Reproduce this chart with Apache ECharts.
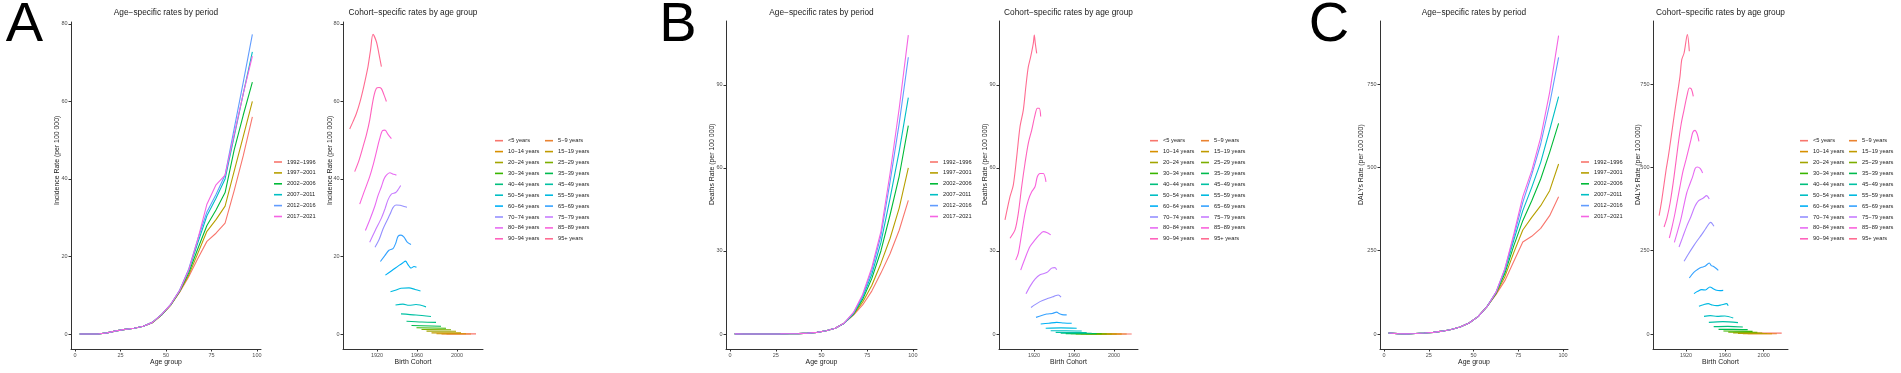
<!DOCTYPE html>
<html>
<head>
<meta charset="utf-8">
<script src="https://cdn.jsdelivr.net/npm/echarts@6/dist/echarts.min.js"></script>
<style>
  html, body { margin: 0; padding: 0; background: #fff; }
  #chart { width: 1901px; height: 373px; }
</style>
</head>
<body>
<div id="chart"></div>
<script>
const FONT = '"Liberation Sans", Arial, Helvetica, sans-serif'

// ---- data ----
const ageMids = [2.5, 7.5, 12.5, 17.5, 22.5, 27.5, 32.5, 37.5, 42.5, 47.5, 52.5, 57.5, 62.5, 67.5, 72.5, 77.5, 82.5, 87.5, 92.5, 97.5]
const periods = ['1992−1996', '1997−2001', '2002−2006', '2007−2011', '2012−2016', '2017−2021']
const ageGroups = ['<5 years', '5−9 years', '10−14 years', '15−19 years', '20−24 years', '25−29 years',
  '30−34 years', '35−39 years', '40−44 years', '45−49 years', '50−54 years', '55−59 years',
  '60−64 years', '65−69 years', '70−74 years', '75−79 years', '80−84 years', '85−89 years',
  '90−94 years', '95+ years']

const ageTicks = [0, 25, 50, 75, 100]
const cohortTicks = [1920, 1960, 2000]
const incidenceTicks = [0, 20, 40, 60, 80]
const deathsTicks = [0, 30, 60, 90]
const dalysTicks = [0, 250, 500, 750]

// rates by period, one row per period, one value per age group
const incidenceByPeriod = [
  [0, 0, 0, 0.3, 0.8, 1.2, 1.5, 2.0, 2.9, 4.9, 7.4, 10.8, 14.8, 19.5, 23.9, 26.0, 28.6, 37.0, 46.0, 56.0],
  [0, 0, 0, 0.3, 0.8, 1.2, 1.5, 2.0, 2.9, 4.9, 7.4, 10.9, 15.2, 20.8, 26.5, 29.5, 33.0, 42.0, 51.0, 60.0],
  [0, 0, 0, 0.3, 0.8, 1.2, 1.5, 2.0, 3.0, 4.9, 7.5, 11.0, 15.8, 22.0, 28.0, 32.0, 36.5, 47.5, 56.5, 65.0],
  [0, 0, 0, 0.3, 0.8, 1.2, 1.5, 2.0, 3.0, 5.0, 7.5, 11.2, 16.4, 23.5, 30.5, 35.0, 40.0, 51.0, 62.0, 72.8],
  [0, 0, 0, 0.3, 0.8, 1.2, 1.5, 2.0, 3.0, 5.0, 7.6, 11.3, 16.8, 24.5, 31.5, 36.0, 41.0, 53.0, 65.0, 77.3],
  [0, 0, 0, 0.3, 0.8, 1.2, 1.5, 2.0, 3.0, 5.0, 7.6, 11.2, 16.5, 24.5, 33.5, 38.5, 41.0, 51.5, 62.0, 71.7]
]
const deathsByPeriod = [
  [0.05, 0.01, 0.01, 0.01, 0.02, 0.04, 0.08, 0.15, 0.3, 0.6, 1.2, 2.1, 4.0, 6.8, 10.5, 15.5, 22.0, 29.0, 37.5, 48.3],
  [0.05, 0.01, 0.01, 0.01, 0.02, 0.04, 0.08, 0.15, 0.3, 0.6, 1.2, 2.1, 4.0, 7.0, 11.5, 17.5, 25.5, 34.5, 45.5, 60.0],
  [0.05, 0.01, 0.01, 0.01, 0.02, 0.04, 0.08, 0.15, 0.3, 0.6, 1.2, 2.1, 3.9, 7.2, 12.5, 20.0, 30.0, 43.0, 57.0, 75.3],
  [0.05, 0.01, 0.01, 0.01, 0.02, 0.04, 0.08, 0.15, 0.3, 0.6, 1.2, 2.1, 3.9, 7.4, 13.3, 21.5, 33.0, 49.0, 66.0, 85.4],
  [0.05, 0.01, 0.01, 0.01, 0.02, 0.04, 0.08, 0.15, 0.3, 0.6, 1.2, 2.1, 4.0, 7.6, 13.8, 23.0, 35.5, 55.0, 76.0, 100.0],
  [0.05, 0.01, 0.01, 0.01, 0.02, 0.04, 0.08, 0.15, 0.3, 0.6, 1.2, 2.1, 4.0, 7.8, 14.3, 24.0, 37.0, 58.0, 81.5, 108.0]
]
const dalysByPeriod = [
  [3, 1, 0.5, 1.5, 3, 5, 8.5, 13.5, 21, 33, 52, 82, 118, 160, 218, 276, 293, 317, 355, 412],
  [3, 1, 0.5, 1.5, 3, 5, 8.5, 13.5, 21, 33, 52, 82, 120, 172, 245, 312, 350, 385, 430, 510],
  [3, 1, 0.5, 1.5, 3, 5, 8.5, 13.5, 21, 33, 52, 82, 122, 182, 265, 340, 400, 465, 545, 632],
  [3, 1, 0.5, 1.5, 3, 5, 8.5, 13.5, 21, 33, 52, 82, 124, 190, 282, 370, 440, 515, 612, 712],
  [3, 1, 0.5, 1.5, 3, 5, 8.5, 13.5, 21, 33, 52, 82, 125, 195, 293, 395, 478, 570, 690, 830],
  [3, 1, 0.5, 1.5, 3, 5, 8.5, 13.5, 21, 33, 52, 82, 125, 196, 300, 412, 490, 590, 725, 895]
]

// rates by birth cohort, one list of [cohort, rate] per age group
const incidenceByCohort = [
  [[1989.5, 0.02], [2019, 0.02]],
  [[1984.5, 0.01], [2014, 0.01]],
  [[1979.5, 0.05], [2009, 0.06]],
  [[1974.5, 0.3], [2004, 0.3]],
  [[1969.5, 0.75], [1999, 0.7]],
  [[1964.5, 1.15], [1994, 1.1]],
  [[1959.5, 1.6], [1989, 1.5]],
  [[1954.5, 2.2], [1984, 2.0]],
  [[1949.5, 3.3], [1965, 3.1], [1979, 3.0]],
  [[1944, 5.2], [1959, 4.9], [1974, 4.5]],
  [[1938.5, 7.5], [1946, 7.7], [1952, 7.4], [1959, 7.6], [1969, 7.0]],
  [[1933.5, 10.9], [1937.5, 11.2], [1944, 11.8], [1952, 11.9], [1958, 11.5], [1963.5, 11.1]],
  [[1928.4, 15.2], [1935, 16.4], [1942, 17.7], [1946, 18.4], [1948.5, 18.8], [1951, 17.9], [1954, 17.0], [1957, 17.4], [1959.5, 17.2]],
  [[1923.4, 18.7], [1928, 20.3], [1932, 21.6], [1936, 22.0], [1939, 23.6], [1941, 25.2], [1944, 25.5], [1947, 25.0], [1950, 23.8], [1954, 23.1]],
  [[1918, 22.4], [1922, 24.3], [1926, 27.1], [1930, 29.3], [1933, 30.9], [1936, 32.6], [1939, 33.3], [1943, 33.2], [1947, 32.9], [1950, 32.7]],
  [[1912.7, 23.7], [1918, 26.6], [1924.4, 29.9], [1928, 32.3], [1931, 34.6], [1934.4, 36.1], [1938.7, 36.5], [1941.5, 37.4], [1943.7, 38.3]],
  [[1908.4, 26.7], [1913, 29.6], [1917.7, 32.9], [1921, 35.7], [1924.4, 38.0], [1927, 40.0], [1929.4, 41.0], [1932.7, 41.6], [1936.7, 41.2], [1939.4, 41.0]],
  [[1902.7, 33.5], [1907, 36.6], [1912.7, 40.6], [1916, 43.5], [1919.4, 47.0], [1922.5, 50.2], [1925.5, 52.5], [1928, 52.6], [1931, 51.5], [1934.4, 50.4]],
  [[1897.7, 41.9], [1902, 44.8], [1906, 48.3], [1909.5, 51.5], [1912.7, 55.2], [1915, 58.8], [1917, 61.5], [1919.4, 63.4], [1922, 63.6], [1924.4, 63.3], [1927, 61.7], [1929.4, 60.0]],
  [[1892.7, 52.9], [1896, 54.8], [1899.4, 56.9], [1903, 59.9], [1906, 63.0], [1909, 66.5], [1911, 69.0], [1913.5, 73.2], [1916, 77.3], [1919.4, 75.4], [1922, 72.2], [1924.4, 69.0]]
]
const deathsByCohort = [
  [[1986.7, 0.02], [2017.7, 0.02]],
  [[1981.7, 0.01], [2012.7, 0.01]],
  [[1976.7, 0.01], [2007.7, 0.01]],
  [[1971.7, 0.01], [2002.7, 0.01]],
  [[1966.7, 0.02], [1997.7, 0.02]],
  [[1961.7, 0.04], [1992.7, 0.04]],
  [[1956.7, 0.08], [1987.7, 0.07]],
  [[1951.7, 0.15], [1982.7, 0.14]],
  [[1946.7, 0.3], [1977.7, 0.28]],
  [[1941.7, 0.6], [1972.7, 0.55]],
  [[1936.7, 1.2], [1952, 1.2], [1967.7, 1.1]],
  [[1931.7, 2.1], [1947, 2.2], [1962.7, 2.1]],
  [[1926.7, 3.6], [1935, 3.9], [1942.7, 4.2], [1950, 4.0], [1957.7, 3.9]],
  [[1922, 6.0], [1932.7, 7.2], [1938, 7.4], [1942.7, 7.9], [1945, 7.4], [1948, 7.0], [1952.7, 6.9]],
  [[1917, 9.6], [1926, 11.7], [1934.3, 12.9], [1940, 13.6], [1944.3, 14.1], [1947, 13.3]],
  [[1912, 14.5], [1916, 17.2], [1921, 19.8], [1926, 21.4], [1932.7, 22.2], [1937.7, 23.8], [1941, 24.0], [1942.7, 23.2]],
  [[1906.7, 23.1], [1911, 27.3], [1916, 31.6], [1921, 34.0], [1925.3, 35.8], [1929.3, 37.0], [1933.3, 36.6], [1936.7, 35.8]],
  [[1901.7, 26.7], [1904.3, 29.1], [1907.7, 36.4], [1911, 43.6], [1914.3, 48.4], [1917.7, 51.4], [1921, 53.2], [1923.3, 56.8], [1926, 58.0], [1929.3, 58.0], [1932, 55.0]],
  [[1896, 34.6], [1901, 37.6], [1904.3, 43.6], [1907.7, 53.3], [1911, 61.7], [1914.3, 68.9], [1917.7, 73.7], [1921, 79.1], [1923.3, 81.6], [1925.3, 81.6], [1926.7, 78.6]],
  [[1891, 41.2], [1896, 49.6], [1899.3, 53.8], [1902.7, 64.0], [1906, 74.9], [1909.3, 80.9], [1912, 89.9], [1914.3, 96.5], [1916.7, 100.2], [1919.3, 105.0], [1920.3, 108.0], [1921.3, 105.0], [1922.7, 101.4]]
]
const dalysByCohort = [
  [[1988.5, 3], [2018.5, 2.5]],
  [[1983.5, 0.9], [2013.5, 0.8]],
  [[1978.5, 0.8], [2008.5, 0.7]],
  [[1973.5, 1.8], [2003.5, 1.5]],
  [[1968.5, 3.5], [1998.5, 3]],
  [[1963.5, 5.5], [1993.5, 5]],
  [[1958.5, 9], [1988.5, 8]],
  [[1953.5, 14], [1968, 14], [1983.5, 13]],
  [[1948.5, 22], [1963, 23], [1978.5, 21]],
  [[1943.5, 35], [1958, 37], [1973.5, 34]],
  [[1938.5, 53], [1945, 55], [1952, 53], [1960, 54], [1968.6, 48]],
  [[1933.3, 83], [1938, 88], [1942.9, 91], [1947, 87], [1951.5, 85], [1956, 87], [1961.8, 91], [1963.4, 85]],
  [[1928.2, 121], [1932, 128], [1936.1, 133], [1940, 132], [1944.6, 141], [1948, 136], [1951.5, 131], [1955, 130], [1958.3, 131]],
  [[1923.4, 168], [1928, 185], [1932.6, 195], [1936, 200], [1939.5, 203], [1943.9, 213], [1946, 205], [1948, 203], [1950.5, 198], [1953.2, 191]],
  [[1918, 218], [1922, 238], [1927.5, 263], [1932, 282], [1936.1, 298], [1940, 315], [1945.4, 335], [1948.7, 323]],
  [[1912.8, 261], [1916.5, 290], [1920.7, 323], [1925, 352], [1929.2, 383], [1933, 400], [1937.8, 408], [1941.2, 415], [1943.9, 405]],
  [[1908, 275], [1911, 305], [1914.6, 343], [1920.7, 423], [1924, 450], [1926.9, 473], [1929.5, 497], [1931.6, 501], [1934.5, 497], [1937.1, 483]],
  [[1902.8, 288], [1905.5, 320], [1908.7, 363], [1913.8, 443], [1917, 490], [1920, 523], [1925.1, 583], [1927, 605], [1929.2, 611], [1931.5, 600], [1933.3, 578]],
  [[1897.4, 321], [1900.5, 350], [1903.6, 393], [1907.7, 473], [1912.1, 573], [1915, 630], [1918, 673], [1921, 715], [1923.4, 738], [1925.5, 735], [1927.5, 713]],
  [[1892.3, 355], [1895.1, 403], [1899.5, 493], [1901.8, 533], [1904.3, 583], [1908.7, 673], [1913.8, 773], [1915.6, 823], [1918, 843], [1921.4, 898], [1923.4, 848]]
]

// ---- styles & layout ----
const periodColors = ['#F8766D', '#B79F00', '#00BA38', '#00BFC4', '#619CFF', '#F564E3']
const groupColors = ['#F8766D', '#EA8331', '#D89000', '#C09B00', '#A3A500', '#7CAE00', '#39B600', '#00BB4E',
  '#00BF7D', '#00C1A3', '#00BFC4', '#00BAE0', '#00B0F6', '#35A2FF', '#9590FF', '#C77CFF',
  '#E76BF3', '#FA62DB', '#FF62BC', '#FF6C91']

const panels = [
  { letter: 'A', letterX: 24.5, yName: 'Incidence Rate (per 100 000)', byPeriod: incidenceByPeriod, byCohort: incidenceByCohort,
    yTicks: incidenceTicks, yRange: [-3.87, 80.5], top: 22, height: 327,
    ageGrid: [71, 190], ageRange: [-2.25, 102.25], cohortGrid: [343, 140], cohortRange: [1886, 2026],
    yNameX: [57.5, 330], periodLegendX: 274, groupLegendX: [495, 545] },
  { letter: 'B', letterX: 678, yName: 'Deaths Rate (per 100 000)', byPeriod: deathsByPeriod, byCohort: deathsByCohort,
    yTicks: deathsTicks, yRange: [-5.42, 113.1], top: 21, height: 328,
    ageGrid: [726, 191], ageRange: [-2.25, 102.25], cohortGrid: [999, 139], cohortRange: [1885, 2024],
    yNameX: [712, 985], periodLegendX: 930, groupLegendX: [1150, 1201] },
  { letter: 'C', letterX: 1329, yName: 'DALYs Rate (per 100 000)', byPeriod: dalysByPeriod, byCohort: dalysByCohort,
    yTicks: dalysTicks, yRange: [-45, 939], top: 21, height: 328,
    ageGrid: [1380, 188], ageRange: [-2.25, 102.75], cohortGrid: [1653, 135], cohortRange: [1886, 2025],
    yNameX: [1361.5, 1638.5], periodLegendX: 1581, groupLegendX: [1800, 1849] }
]

function valueAxis (gridIndex, range, ticks) {
  return {
    type: 'value',
    gridIndex: gridIndex,
    min: range[0],
    max: range[1],
    axisLine: { show: true, onZero: false, lineStyle: { color: '#333', width: 1 } },
    axisTick: { show: true, length: 2.5, customValues: ticks, lineStyle: { color: '#333', width: 1 } },
    axisLabel: {
      customValues: ticks, fontSize: 5.5, color: '#4d4d4d', margin: 3.5, fontFamily: FONT,
      formatter: v => String(v)
    },
    splitLine: { show: false }
  }
}

function text (str, x, y, size, align, rotation, color) {
  return {
    type: 'text', x: x, y: y, rotation: rotation || 0, silent: true,
    style: {
      text: str, fill: color || '#1a1a1a', fontSize: size, fontFamily: FONT,
      align: align || 'center', verticalAlign: 'middle',
      textAlign: align || 'center', textVerticalAlign: 'middle'
    }
  }
}

const legendBase = {
  orient: 'vertical', padding: 0, itemGap: 0.9, itemWidth: 8, itemHeight: 1.6, icon: 'rect',
  selectedMode: false,
  textStyle: { fontSize: 5.7, lineHeight: 10, color: '#222', fontFamily: FONT }
}

const grids = []
const xAxes = []
const yAxes = []
const series = []
const legends = []
const graphics = []

panels.forEach(p => {
  // age-specific rates by period
  const gA = grids.length
  grids.push({ left: p.ageGrid[0], width: p.ageGrid[1], top: p.top, height: p.height, outerBoundsMode: 'none' })
  xAxes.push(valueAxis(gA, p.ageRange, ageTicks))
  yAxes.push(valueAxis(gA, p.yRange, p.yTicks))
  p.byPeriod.forEach((row, i) => {
    series.push({
      name: periods[i], type: 'line', xAxisIndex: gA, yAxisIndex: gA,
      color: periodColors[i], symbol: 'none', showSymbol: false, silent: true,
      lineStyle: { width: 1.1 },
      data: ageMids.map((a, j) => [a, row[j]])
    })
  })

  // cohort-specific rates by age group
  const gC = grids.length
  grids.push({ left: p.cohortGrid[0], width: p.cohortGrid[1], top: p.top, height: p.height, outerBoundsMode: 'none' })
  xAxes.push(valueAxis(gC, p.cohortRange, cohortTicks))
  yAxes.push(valueAxis(gC, p.yRange, p.yTicks))
  p.byCohort.forEach((pts, i) => {
    series.push({
      name: ageGroups[i], type: 'line', xAxisIndex: gC, yAxisIndex: gC,
      color: groupColors[i], symbol: 'none', showSymbol: false, silent: true, smooth: 0.3,
      lineStyle: { width: 1.1 },
      data: pts
    })
  })

  legends.push(Object.assign({}, legendBase, { left: p.periodLegendX, top: 157, data: periods }))
  legends.push(Object.assign({}, legendBase, { left: p.groupLegendX[0], top: 135.7, data: ageGroups.filter((g, i) => i % 2 === 0) }))
  legends.push(Object.assign({}, legendBase, { left: p.groupLegendX[1], top: 135.7, data: ageGroups.filter((g, i) => i % 2 === 1) }))

  const ageMid = p.ageGrid[0] + p.ageGrid[1] / 2
  const cohortMid = p.cohortGrid[0] + p.cohortGrid[1] / 2
  graphics.push(text(p.letter, p.letterX, 26, 56, 'center', 0, '#000'))
  graphics.push(text('Age−specific rates by period', ageMid, 12.5, 8.3))
  graphics.push(text('Cohort−specific rates by age group', cohortMid, 12.5, 8.3))
  graphics.push(text('Age group', ageMid, 362, 6.9))
  graphics.push(text('Birth Cohort', cohortMid, 362, 6.9))
  graphics.push(text(p.yName, p.yNameX[0], 205, 6.9, 'left', Math.PI / 2))
  graphics.push(text(p.yName, p.yNameX[1], 205, 6.9, 'left', Math.PI / 2))
})

const chart = echarts.init(document.getElementById('chart'))
chart.setOption({
  animation: false,
  backgroundColor: '#fff',
  grid: grids,
  xAxis: xAxes,
  yAxis: yAxes,
  legend: legends,
  series: series,
  graphic: { elements: graphics }
})
</script>
</body>
</html>
